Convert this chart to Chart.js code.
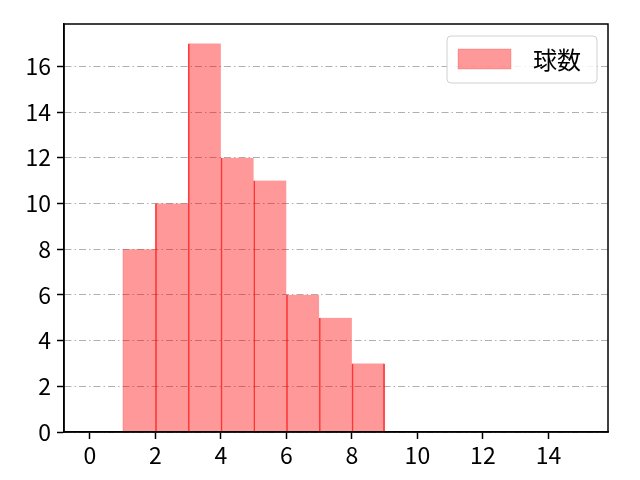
<!DOCTYPE html>
<html>
<head>
<meta charset="utf-8">
<script src="https://cdn.jsdelivr.net/npm/chart.js@4"></script>
<style>
  html, body { margin: 0; padding: 0; background: #fff; }
</style>
</head>
<body>
<canvas id="myChart" width="640" height="480"></canvas>
<script>
// histogram bins (left edge) and counts
var bin_start = [1, 2, 3, 4, 5, 6, 7, 8];
var counts = [8, 10, 17, 12, 11, 6, 5, 3];
var series_label = '球数';
var x_ticks = [0, 2, 4, 6, 8, 10, 12, 14];
var y_ticks = [0, 2, 4, 6, 8, 10, 12, 14, 16];

var points = [];
for (let i in bin_start) {
    points.push({ x: bin_start[i] + 0.5, y: counts[i] });
}

var tickFont = { family: '"Noto Sans CJK JP", sans-serif', size: 23 };

// frame around the plot area + legend box
var framePlugin = {
    id: 'frame',
    afterDraw: function(chart) {
        var ctx = chart.ctx;
        var a = chart.chartArea;
        ctx.save();
        ctx.strokeStyle = '#000';
        ctx.lineWidth = 1.5;
        ctx.strokeRect(a.left, a.top, a.right - a.left, a.bottom - a.top);

        // legend
        var bx = a.right - 161, by = a.top + 12, bw = 150, bh = 47;
        ctx.beginPath();
        ctx.roundRect(bx, by, bw, bh, 4);
        ctx.fillStyle = 'rgba(255,255,255,0.85)';
        ctx.fill();
        ctx.strokeStyle = '#d0d0d0';
        ctx.lineWidth = 1;
        ctx.stroke();
        ctx.fillStyle = 'rgba(255,0,0,0.4)';
        ctx.fillRect(bx + 11, by + 13, 53, 20);
        ctx.strokeStyle = 'rgba(255,0,0,0.2)';
        ctx.strokeRect(bx + 11, by + 13, 53, 20);
        ctx.fillStyle = '#000';
        ctx.font = '24px "Noto Sans CJK JP"';
        ctx.textBaseline = 'middle';
        ctx.fillText(chart.data.datasets[0].label, bx + 86, by + 24);
        ctx.restore();
    }
};

var ctx = document.getElementById('myChart').getContext('2d');
var myChart = new Chart(ctx, {
    type: 'bar',
    data: {
        datasets: [{
            label: series_label,
            data: points,
            backgroundColor: 'rgba(255, 0, 0, 0.4)',
            borderColor: function(c) {
                return c.dataIndex === 0 ? 'rgba(255, 0, 0, 0.25)' : 'rgba(255, 0, 0, 0.75)';
            },
            borderWidth: function(c) {
                var last = c.dataIndex === counts.length - 1;
                return { left: 1, top: 0, bottom: 0, right: last ? 1 : 0 };
            },
            borderSkipped: false,
            barPercentage: 1.0,
            categoryPercentage: 1.0
        }]
    },
    options: {
        responsive: false,
        animation: false,
        devicePixelRatio: 1,
        layout: { padding: { left: 0, right: 32, top: 24, bottom: 0 } },
        plugins: {
            legend: { display: false },
            tooltip: { enabled: false }
        },
        scales: {
            x: {
                type: 'linear',
                min: -0.79,
                max: 15.82,
                offset: false,
                afterBuildTicks: function(scale) {
                    scale.ticks = x_ticks.map(v => ({ value: v }));
                },
                afterFit: function(scale) { scale.height = 48; },
                grid: {
                    offset: false,
                    drawOnChartArea: false,
                    tickLength: 7,
                    tickColor: '#000',
                    tickWidth: 1.5
                },
                border: { display: true, color: '#000', width: 1.5 },
                ticks: {
                    color: '#000',
                    padding: 2,
                    maxRotation: 0,
                    autoSkip: false,
                    font: tickFont
                }
            },
            y: {
                min: 0,
                max: 17.85,
                z: 1,
                afterBuildTicks: function(scale) {
                    scale.ticks = y_ticks.map(v => ({ value: v }));
                },
                afterFit: function(scale) { scale.width = 64; },
                grid: {
                    color: '#b0b0b0',
                    lineWidth: 1,
                    tickLength: 7,
                    tickColor: '#000',
                    tickWidth: 1.5,
                    tickBorderDash: []
                },
                border: { display: true, color: '#000', width: 1.5, dash: [7, 3, 1.5, 3] },
                ticks: {
                    color: '#000',
                    padding: 6,
                    autoSkip: false,
                    font: tickFont
                }
            }
        }
    },
    plugins: [framePlugin]
});
</script>
</body>
</html>
